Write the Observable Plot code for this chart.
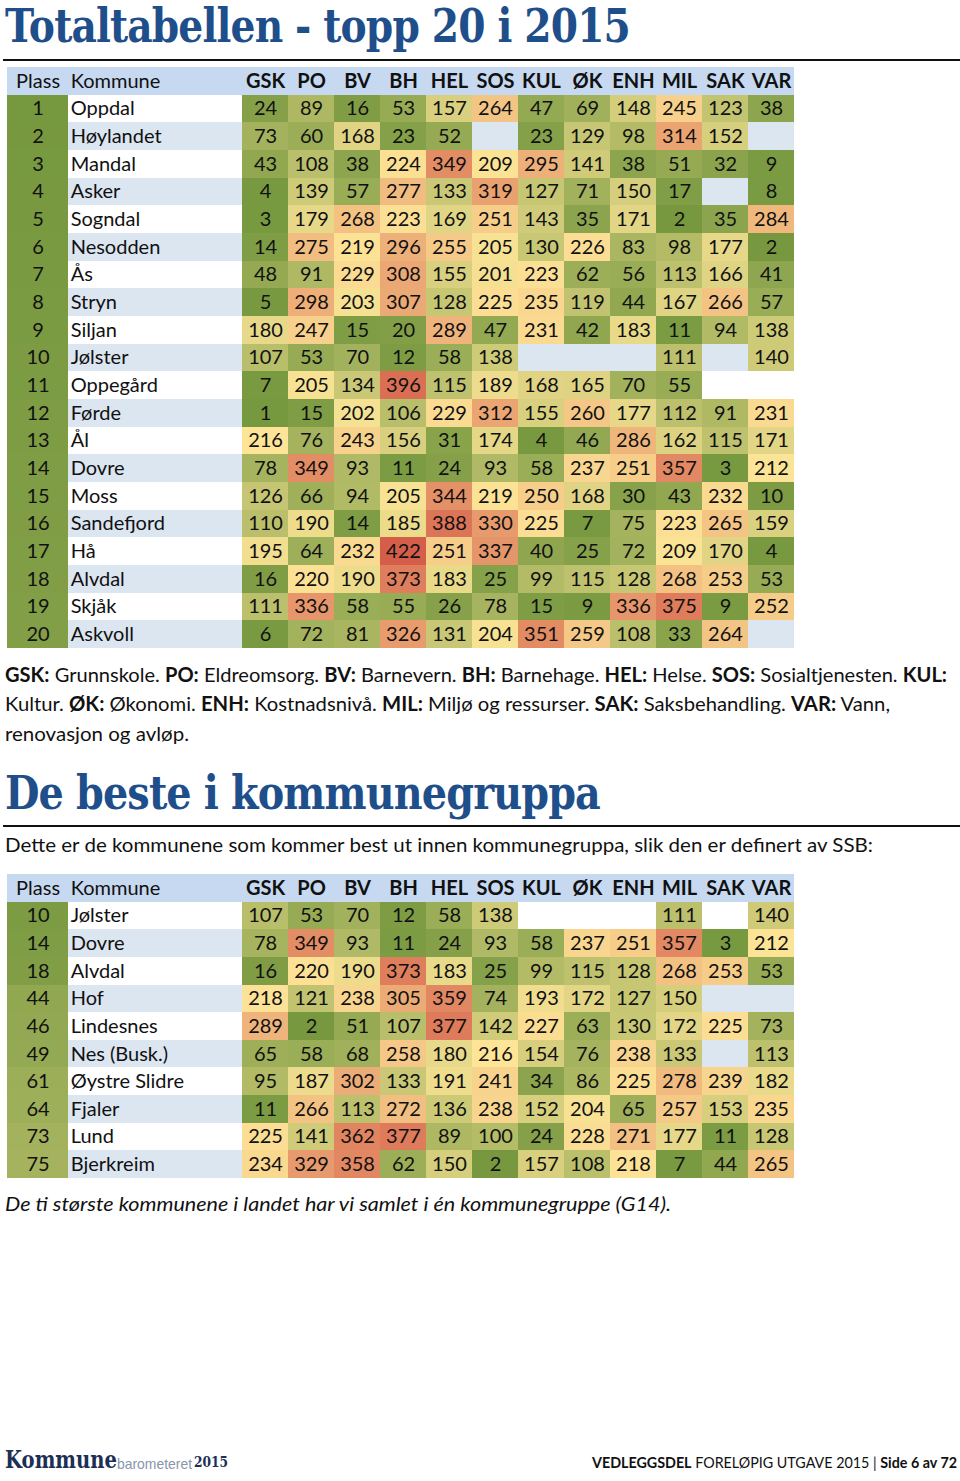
<!DOCTYPE html>
<html lang="no"><head><meta charset="utf-8">
<script src="https://cdn.jsdelivr.net/npm/d3@7"></script>
<script src="https://cdn.jsdelivr.net/npm/@observablehq/plot@0.6"></script>
<style>
html,body{margin:0;padding:0;background:#fff;}
body{width:960px;height:1481px;position:relative;overflow:hidden;font-family:Lato,"Open Sans",sans-serif;color:#111;}
.abs{position:absolute;white-space:nowrap;transform-origin:0 0;}
.title{font-family:"DejaVu Serif",serif;font-weight:bold;color:#1f4f8b;font-size:46px;line-height:46px;letter-spacing:-1px;}
.rule{position:absolute;left:3px;width:957px;height:2px;background:#111;}
.note{font-size:20px;line-height:20px;}
.tab{position:absolute;left:0;}
</style></head><body>

<div class="abs title" data-w="625" style="left:5px;top:3px">Totaltabellen - topp 20 i 2015</div>
<div class="rule" style="top:59px"></div>
<div class="tab" id="tab1" style="top:67px"></div>

<div class="abs note" data-w="942" style="left:5px;top:664px"><b>GSK:</b> Grunnskole. <b>PO:</b> Eldreomsorg. <b>BV:</b> Barnevern. <b>BH:</b> Barnehage. <b>HEL:</b> Helse. <b>SOS:</b> Sosialtjenesten. <b>KUL:</b></div>
<div class="abs note" data-w="885" style="left:5px;top:693px">Kultur. <b>ØK:</b> Økonomi. <b>ENH:</b> Kostnadsnivå. <b>MIL:</b> Miljø og ressurser. <b>SAK:</b> Saksbehandling. <b>VAR:</b> Vann,</div>
<div class="abs note" data-w="184" style="left:5px;top:723px">renovasjon og avløp.</div>

<div class="abs title" data-w="595" style="left:5px;top:770px">De beste i kommunegruppa</div>
<div class="rule" style="top:825px"></div>
<div class="abs note" data-w="868" style="left:5px;top:834px">Dette er de kommunene som kommer best ut innen kommunegruppa, slik den er definert av SSB:</div>
<div class="tab" id="tab2" style="top:874px"></div>
<div class="abs note" data-w="666" style="left:5px;top:1193px;font-style:italic">De ti største kommunene i landet har vi samlet i én kommunegruppe (G14).</div>

<div class="abs" data-w="112" style="left:5px;top:1447px;font-family:'DejaVu Serif',serif;font-weight:bold;font-size:25px;line-height:25px;color:#1c2f55;">Kommune</div>
<div class="abs" data-w="75" style="left:117px;top:1456px;font-family:'Liberation Sans',sans-serif;font-size:15px;line-height:15px;color:#8796aa;">barometeret</div>
<div class="abs" data-w="34" style="left:194px;top:1455px;font-family:'DejaVu Serif',serif;font-weight:bold;font-size:15px;line-height:15px;color:#1c2f55;">2015</div>
<div class="abs" data-w="365" style="left:592px;top:1455px;font-size:15px;line-height:15px;color:#111;"><b>VEDLEGGSDEL</b> FORELØPIG UTGAVE 2015 | <b>Side 6 av 72</b></div>

<script>
// ---- Data ----
const cols = ["GSK","PO","BV","BH","HEL","SOS","KUL","ØK","ENH","MIL","SAK","VAR"];

const ranks1 = [1,2,3,4,5,6,7,8,9,10,11,12,13,14,15,16,17,18,19,20];
const names1 = ["Oppdal","Høylandet","Mandal","Asker","Sogndal","Nesodden","Ås","Stryn","Siljan","Jølster",
  "Oppegård","Førde","Ål","Dovre","Moss","Sandefjord","Hå","Alvdal","Skjåk","Askvoll"];
const values1 = [
  [24,89,16,53,157,264,47,69,148,245,123,38],
  [73,60,168,23,52,null,23,129,98,314,152,null],
  [43,108,38,224,349,209,295,141,38,51,32,9],
  [4,139,57,277,133,319,127,71,150,17,null,8],
  [3,179,268,223,169,251,143,35,171,2,35,284],
  [14,275,219,296,255,205,130,226,83,98,177,2],
  [48,91,229,308,155,201,223,62,56,113,166,41],
  [5,298,203,307,128,225,235,119,44,167,266,57],
  [180,247,15,20,289,47,231,42,183,11,94,138],
  [107,53,70,12,58,138,null,null,null,111,null,140],
  [7,205,134,396,115,189,168,165,70,55,null,null],
  [1,15,202,106,229,312,155,260,177,112,91,231],
  [216,76,243,156,31,174,4,46,286,162,115,171],
  [78,349,93,11,24,93,58,237,251,357,3,212],
  [126,66,94,205,344,219,250,168,30,43,232,10],
  [110,190,14,185,388,330,225,7,75,223,265,159],
  [195,64,232,422,251,337,40,25,72,209,170,4],
  [16,220,190,373,183,25,99,115,128,268,253,53],
  [111,336,58,55,26,78,15,9,336,375,9,252],
  [6,72,81,326,131,204,351,259,108,33,264,null]
];

const ranks2 = [10,14,18,44,46,49,61,64,73,75];
const names2 = ["Jølster","Dovre","Alvdal","Hof","Lindesnes","Nes (Busk.)","Øystre Slidre","Fjaler","Lund","Bjerkreim"];
const values2 = [
  [107,53,70,12,58,138,null,null,null,111,null,140],
  [78,349,93,11,24,93,58,237,251,357,3,212],
  [16,220,190,373,183,25,99,115,128,268,253,53],
  [218,121,238,305,359,74,193,172,127,150,null,null],
  [289,2,51,107,377,142,227,63,130,172,225,73],
  [65,58,68,258,180,216,154,76,238,133,null,113],
  [95,187,302,133,191,241,34,86,225,278,239,182],
  [11,266,113,272,136,238,152,204,65,257,153,235],
  [225,141,362,377,89,100,24,228,271,177,11,128],
  [234,329,358,62,150,2,157,108,218,7,44,265]
];

// ---- Layout ----
function table(ranks, names, values) {
  const weights = {Plass: 1.33, Kommune: 3.78};
  const keys = ["Plass", "Kommune", ...cols];
  const pos = {}; let acc = 0;
  for (const k of keys) { const w = weights[k] ?? 1; pos[k] = [acc, acc + w]; acc += w; }
  const mid = k => (pos[k][0] + pos[k][1]) / 2;
  const rowH = 27.68;
  const rows = ranks.map((r, i) => ({i, key: "r" + i, rank: r, name: names[i]}));
  const yDomain = ["h", ...rows.map(d => d.key)];
  const H = Math.round(rowH * yDomain.length);
  const cells = rows.flatMap(d => cols.map((c, j) => ({key: d.key, col: c, v: values[d.i][j]}))).filter(d => d.v != null);
  const head = [{key: "h"}];
  const headers = keys.map(k => ({key: "h", col: k}));
  return Plot.plot({
    width: 960, height: H,
    marginTop: 0, marginBottom: 0, marginLeft: 0, marginRight: 0,
    style: {fontFamily: "Lato, 'Open Sans', sans-serif", fontSize: "20px", color: "#111", shapeRendering: "crispEdges"},
    x: {type: "linear", domain: [0, acc], range: [7, 794], axis: null},
    y: {type: "band", domain: yDomain, range: [0, H], padding: 0, round: false, axis: null},
    color: {type: "linear", domain: [1, 214, 428], range: ["#76983f", "#fde597", "#d45a48"], interpolate: "rgb"},
    marks: [
      Plot.barX(head, {x1: () => 0, x2: () => acc, y: "key", fill: "#c6d9f0"}),
      Plot.barX(rows.filter(d => d.i % 2 === 0), {x1: () => pos.Kommune[0], x2: () => acc, y: "key", fill: "#ffffff"}),
      Plot.barX(rows.filter(d => d.i % 2 === 1), {x1: () => pos.Kommune[0], x2: () => acc, y: "key", fill: "#dce6f1"}),
      Plot.barX(rows, {x1: () => pos.Plass[0], x2: () => pos.Plass[1], y: "key", fill: "rank"}),
      Plot.barX(cells, {x1: d => pos[d.col][0], x2: d => pos[d.col][1], y: "key", fill: "v"}),
      Plot.text(headers.filter(d => d.col === "Plass"), {x: () => mid("Plass"), y: "key", text: "col", fill: "#111"}),
      Plot.text(headers.filter(d => d.col === "Kommune"), {x: () => pos.Kommune[0], dx: 2, y: "key", text: "col", textAnchor: "start", fill: "#111"}),
      Plot.text(headers.filter(d => cols.includes(d.col)), {x: d => mid(d.col), y: "key", text: "col", fontWeight: "bold", fill: "#111"}),
      Plot.text(rows, {x: () => mid("Plass"), y: "key", text: d => String(d.rank), fill: "#111"}),
      Plot.text(rows, {x: () => pos.Kommune[0], dx: 2, y: "key", text: "name", textAnchor: "start", fill: "#111"}),
      Plot.text(cells, {x: d => mid(d.col), y: "key", text: d => String(d.v), fill: "#111"})
    ]
  });
}

document.getElementById("tab1").append(table(ranks1, names1, values1));
document.getElementById("tab2").append(table(ranks2, names2, values2));

function fit() {
  document.querySelectorAll("[data-w]").forEach(el => {
    el.style.transform = "none";
    const w = el.getBoundingClientRect().width;
    if (w > 0) el.style.transform = `scaleX(${(+el.dataset.w) / w})`;
  });
}
fit();
if (document.fonts && document.fonts.ready) document.fonts.ready.then(fit);
</script>
</body></html>
